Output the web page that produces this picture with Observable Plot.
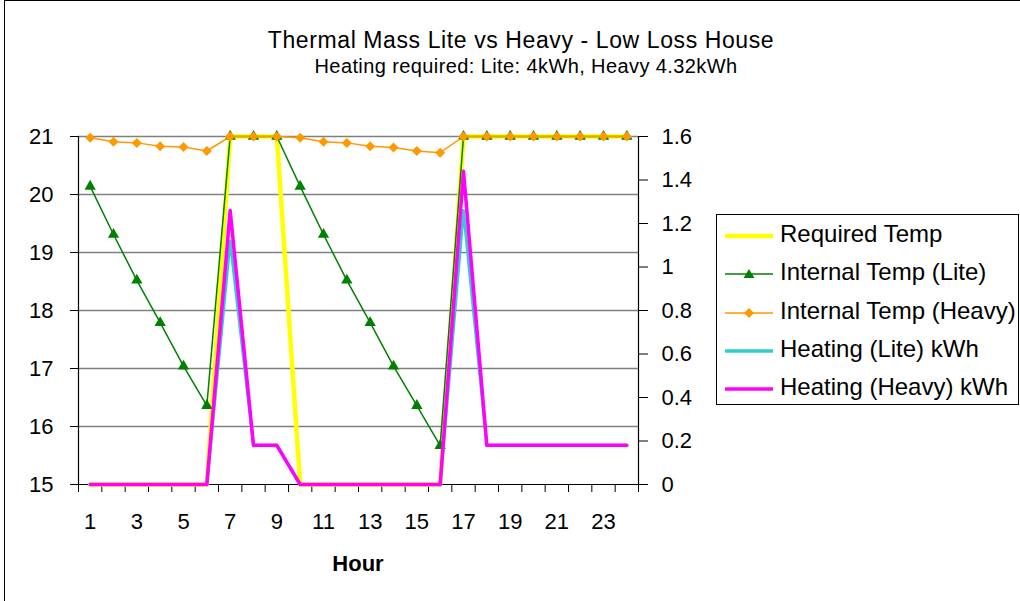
<!DOCTYPE html>
<html><head><meta charset="utf-8">
<script src="https://cdn.jsdelivr.net/npm/d3@7"></script>
<script src="https://cdn.jsdelivr.net/npm/@observablehq/plot@0.6"></script>
<style>
body{margin:0;background:#fff;font-family:"Liberation Sans",Arial,sans-serif;}
#wrap{position:relative;width:1020px;height:601px;overflow:hidden;background:#fff;}
#border{position:absolute;left:4px;top:0;width:1030px;height:610px;border-left:1px solid #000;border-top:1px solid #000;}
.t{position:absolute;white-space:nowrap;transform:translateX(-50%);color:#000;}
#title{left:521px;top:27px;font-size:23px;letter-spacing:0.6px;}
#subtitle{left:526px;top:55px;font-size:20px;letter-spacing:0.4px;}
#xlabel{left:358px;top:551px;font-size:22px;font-weight:bold;}
#chart{position:absolute;left:0;top:100px;}
#chart svg text{font-size:22px !important;}
#legend{position:absolute;left:716px;top:214px;width:301px;height:189px;border:1px solid #000;background:#fff;}
.row{position:absolute;left:0;height:38px;width:300px;}
.row svg{position:absolute;left:7px;top:9px;}
.row span{position:absolute;left:63px;top:3px;font-size:24px;white-space:nowrap;}
</style></head><body>
<div id="wrap">
  <div id="border"></div>
  <div id="title" class="t">Thermal Mass Lite vs Heavy - Low Loss House</div>
  <div id="subtitle" class="t">Heating required: Lite: 4kWh, Heavy 4.32kWh</div>
  <div id="chart"></div>
  <div id="xlabel" class="t">Hour</div>
  <div id="legend"></div>
</div>
<script>
// ---- data ----
const hours = [1,2,3,4,5,6,7,8,9,10,11,12,13,14,15,16,17,18,19,20,21,22,23,24];
const requiredTemp = [15,15,15,15,15,15,21,21,21,15,15,15,15,15,15,15,21,21,21,21,21,21,21,21];
const liteTemp = [20.14,19.31,18.52,17.79,17.04,16.36,21,21,21,20.14,19.31,18.52,17.79,17.04,16.36,15.67,21,21,21,21,21,21,21,21];
const heavyTemp = [20.98,20.91,20.89,20.83,20.82,20.75,21,21,21,20.98,20.91,20.89,20.83,20.81,20.75,20.72,21,21,21,21,21,21,21,21];
const heatingLite = [0,0,0,0,0,0,1.12,0.18,0.18,0,0,0,0,0,0,0,1.26,0.18,0.18,0.18,0.18,0.18,0.18,0.18];
const heatingHeavy = [0,0,0,0,0,0,1.26,0.18,0.18,0,0,0,0,0,0,0,1.44,0.18,0.18,0.18,0.18,0.18,0.18,0.18];
const leftTicks = [15,16,17,18,19,20,21];
const gridTemps = [16,17,18,19,20,21];
const rightTicks = [0,0.2,0.4,0.6,0.8,1,1.2,1.4,1.6];
const xTickLabels = [1,3,5,7,9,11,13,15,17,19,21,23];
const xBoundaries = [0.5,1.5,2.5,3.5,4.5,5.5,6.5,7.5,8.5,9.5,10.5,11.5,12.5,13.5,14.5,15.5,16.5,17.5,18.5,19.5,20.5,21.5,22.5,23.5,24.5];
const seriesNames = ["Required Temp","Internal Temp (Lite)","Internal Temp (Heavy)","Heating (Lite) kWh","Heating (Heavy) kWh"];
const seriesColors = ["#ffff00","#008000","#ff9900","#33cccc","#ff00ff"];

// secondary axis (kWh, 0..1.6) mapped onto primary (°C, 15..21)
const tMin = 15, tMax = 21, kMax = 1.6;
const toTemp = k => tMin + k * (tMax - tMin) / kMax;
const toKwh = t => (t - tMin) * kMax / (tMax - tMin);

const rows = hours.map((h, i) => ({
  hour: h,
  required: requiredTemp[i],
  lite: liteTemp[i],
  heavy: heavyTemp[i],
  hLite: toTemp(heatingLite[i]),
  hHeavy: toTemp(heatingHeavy[i])
}));

const chart = Plot.plot({
  width: 1020, height: 501,
  marginLeft: 78, marginRight: 382, marginTop: 36, marginBottom: 117,
  x: {type: "linear", domain: [0.5, 24.5]},
  y: {domain: [tMin, tMax]},
  style: {fontFamily: "Liberation Sans, Arial, sans-serif", fontSize: "22px", color: "#000", background: "transparent", overflow: "visible"},
  marks: [
    Plot.ruleY(gridTemps, {stroke: "#808080", strokeWidth: 1.3}),
    Plot.ruleY([tMin], {stroke: "#000", strokeWidth: 1.2}),
    Plot.ruleX([0.5], {stroke: "#000", strokeWidth: 1.2}),
    Plot.ruleX([24.5], {stroke: "#000", strokeWidth: 1.2}),
    Plot.axisY({anchor: "left", ticks: leftTicks, tickSize: 8, tickPadding: 17, tickFormat: d => String(d), label: null, fontSize: 22, stroke: "#000"}),
    Plot.axisY({anchor: "right", ticks: rightTicks.map(toTemp), tickSize: 9, tickPadding: 14, tickFormat: t => String(+toKwh(t).toFixed(1)), label: null, fontSize: 22, stroke: "#000"}),
    Plot.axisX({ticks: xBoundaries, tickSize: 8, tickFormat: () => "", label: null, stroke: "#000"}),
    Plot.axisX({ticks: xTickLabels, tickSize: 0, tickPadding: 29, tickFormat: d => String(d), label: null, fontSize: 22}),
    Plot.line(rows, {x: "hour", y: "required", stroke: seriesColors[0], strokeWidth: 4.5}),
    Plot.line(rows, {x: "hour", y: "lite", stroke: seriesColors[1], strokeWidth: 1.5}),
    Plot.dot(rows, {x: "hour", y: "lite", symbol: "triangle", r: 4.2, fill: seriesColors[1], stroke: "none"}),
    Plot.line(rows, {x: "hour", y: "heavy", stroke: seriesColors[2], strokeWidth: 1.5}),
    Plot.dot(rows, {x: "hour", y: "heavy", symbol: "diamond2", r: 4.5, fill: seriesColors[2], stroke: "none"}),
    Plot.line(rows, {x: "hour", y: "hLite", stroke: seriesColors[3], strokeWidth: 3}),
    Plot.line(rows, {x: "hour", y: "hHeavy", stroke: seriesColors[4], strokeWidth: 3.5})
  ]
});
document.getElementById("chart").appendChild(chart);

// legend
const legend = document.getElementById("legend");
const markers = [null, "tri", "dia", null, null];
seriesNames.forEach((name, i) => {
  const row = document.createElement("div");
  row.className = "row";
  row.style.top = (2 + i * 38.3) + "px";
  let m = "";
  if (markers[i] === "tri") m = `<path d="M25,5 L30.5,14 L19.5,14 Z" fill="${seriesColors[i]}"/>`;
  if (markers[i] === "dia") m = `<path d="M25,5 L30,10 L25,15 L20,10 Z" fill="${seriesColors[i]}"/>`;
  const w = i === 0 ? 4.5 : (i >= 3 ? 3.5 : 1.5);
  row.innerHTML = `<svg width="50" height="20"><line x1="1" x2="49" y1="10" y2="10" stroke="${seriesColors[i]}" stroke-width="${w}"/>${m}</svg><span>${name}</span>`;
  legend.appendChild(row);
});
</script>
</body></html>
